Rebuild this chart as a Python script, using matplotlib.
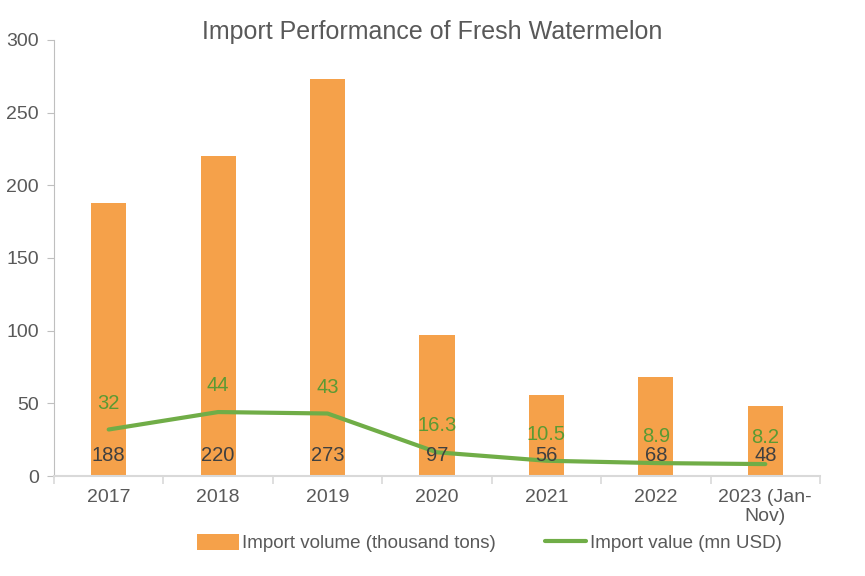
import matplotlib
matplotlib.use("Agg")
import matplotlib.pyplot as plt
import numpy as np

plt.rcParams['font.family'] = ['Liberation Sans', 'DejaVu Sans']

categories = ["2017", "2018", "2019", "2020", "2021", "2022", "2023 (Jan-\nNov)"]
volume = [188, 220, 273, 97, 56, 68, 48]
value = [32, 44, 43, 16.3, 10.5, 8.9, 8.2]
value_labels = ["32", "44", "43", "16.3", "10.5", "8.9", "8.2"]

bar_color = "#F5A14A"
line_color = "#70AD47"
label_green = "#5B9A33"
text_gray = "#595959"
axis_gray = "#BFBFBF"

fig = plt.figure(figsize=(8.65, 5.76), dpi=100)
ax = fig.add_axes([0.0624, 0.1736, 0.8856, 0.757])

x = np.arange(len(categories))
bars = ax.bar(x, volume, width=0.32, color=bar_color, label="Import volume (thousand tons)", zorder=2)
line, = ax.plot(x, value, color=line_color, linewidth=3, solid_capstyle='round',
                label="Import value (mn USD)", zorder=3)

for xi, v in zip(x, volume):
    ax.text(xi, 14, str(v), ha='center', va='center', fontsize=14.5, color="#404040", zorder=4)
for xi, v, lab in zip(x, value, value_labels):
    ax.annotate(lab, (xi, v), xytext=(0, 19), textcoords='offset points',
                ha='center', va='center', fontsize=14.5, color=label_green, zorder=4)

ax.set_xlim(-0.5, len(categories) - 0.5)
ax.set_ylim(0, 300)
ax.set_yticks([0, 50, 100, 150, 200, 250, 300])
ax.set_xticks(x)
ax.set_xticklabels(categories)
ax.set_xticks(np.arange(-0.5, len(categories)), minor=True)
ax.tick_params(axis='x', which='major', length=0, labelsize=14, colors=text_gray, pad=9)
ax.tick_params(axis='x', which='minor', length=6, color="#D9D9D9", width=1.2)
ax.tick_params(axis='y', length=5, color=axis_gray, labelsize=14, labelcolor=text_gray, pad=6)

for s in ['top', 'right']:
    ax.spines[s].set_visible(False)
ax.spines['left'].set_color(axis_gray)
ax.spines['bottom'].set_color("#D9D9D9")
ax.spines['bottom'].set_linewidth(1.5)

fig.text(0.5, 0.945, "Import Performance of Fresh Watermelon", ha='center', va='center',
         fontsize=18, color=text_gray)

leg = fig.legend([bars, line], ["Import volume (thousand tons)", "Import value (mn USD)"],
                 loc='center', bbox_to_anchor=(0.566, 0.057), ncol=2, frameon=False,
                 fontsize=13.5, handlelength=2.2, handleheight=0.9, columnspacing=2.6,
                 handletextpad=0.2)
for t in leg.get_texts():
    t.set_color(text_gray)

fig.savefig("out.png", dpi=100)
